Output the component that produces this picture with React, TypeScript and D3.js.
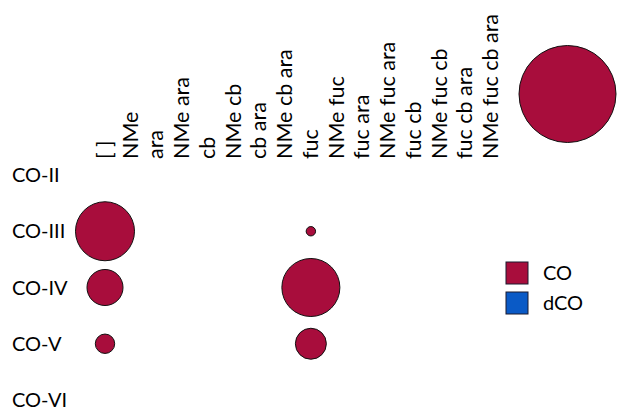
import React from "react";
import * as d3 from "d3";

const columns = ["[ ]", "NMe", "ara", "NMe ara", "cb", "NMe cb", "cb ara", "NMe cb ara", "fuc", "NMe fuc", "fuc ara", "NMe fuc ara", "fuc cb", "NMe fuc cb", "fuc cb ara", "NMe fuc cb ara"];
const rows = ["CO-II", "CO-III", "CO-IV", "CO-V", "CO-VI"];
const pointCols = ["[ ]", "[ ]", "[ ]", "fuc", "fuc", "fuc"];
const pointRows = ["CO-III", "CO-IV", "CO-V", "CO-III", "CO-IV", "CO-V"];
const pointValues = [37, 13.8, 4, 0.94, 35.8, 10.2];
const pointSeries = ["CO", "CO", "CO", "CO", "CO", "CO"];
const refValue = 100;
const seriesNames = ["CO", "dCO"];
const seriesColors = ["#a80d3c", "#0a5ac6"];

const W = 617, H = 410;
const FONT = "Lato, sans-serif";
const FS = 20;
const COL_FS = 21.5;

export default function App() {
  const x = d3.scalePoint<string>().domain(columns).range([105, 491]);
  const y = d3.scalePoint<string>().domain(rows).range([175, 400]);
  const r = d3.scaleSqrt().domain([0, refValue]).range([0, 48.5]);
  const color = d3.scaleOrdinal<string, string>().domain(seriesNames).range(seriesColors);

  return (
    <svg width={W} height={H} style={{ position: "absolute", left: 0, top: 0, background: "#fff" }} fontFamily={FONT}>
      {columns.map((c) => (
        <text key={c} transform={`translate(${x(c)! + 7},159) rotate(-90)`} fontSize={COL_FS} fill="#000" style={{ whiteSpace: "pre" }}>{c}</text>
      ))}
      {rows.map((rw) => (
        <text key={rw} x={12} y={y(rw)!} dy="0.35em" fontSize={FS} fill="#000">{rw}</text>
      ))}
      {pointValues.map((v, i) => (
        <circle key={i} cx={x(pointCols[i])!} cy={y(pointRows[i])!} r={r(v)} fill={color(pointSeries[i])} stroke="#111" strokeWidth={1} />
      ))}
      <circle cx={567.5} cy={94} r={r(refValue)} fill={color("CO")} stroke="#111" strokeWidth={1} />
      {seriesNames.map((s, i) => (
        <g key={s} transform={`translate(506,${262 + i * 30})`}>
          <rect x={0} y={0} width={22} height={22} fill={color(s)} stroke="#1a1a2e" strokeWidth={1} />
          <text x={37} y={11} dy="0.35em" fontSize={FS} fill="#000">{s}</text>
        </g>
      ))}
    </svg>
  );
}
